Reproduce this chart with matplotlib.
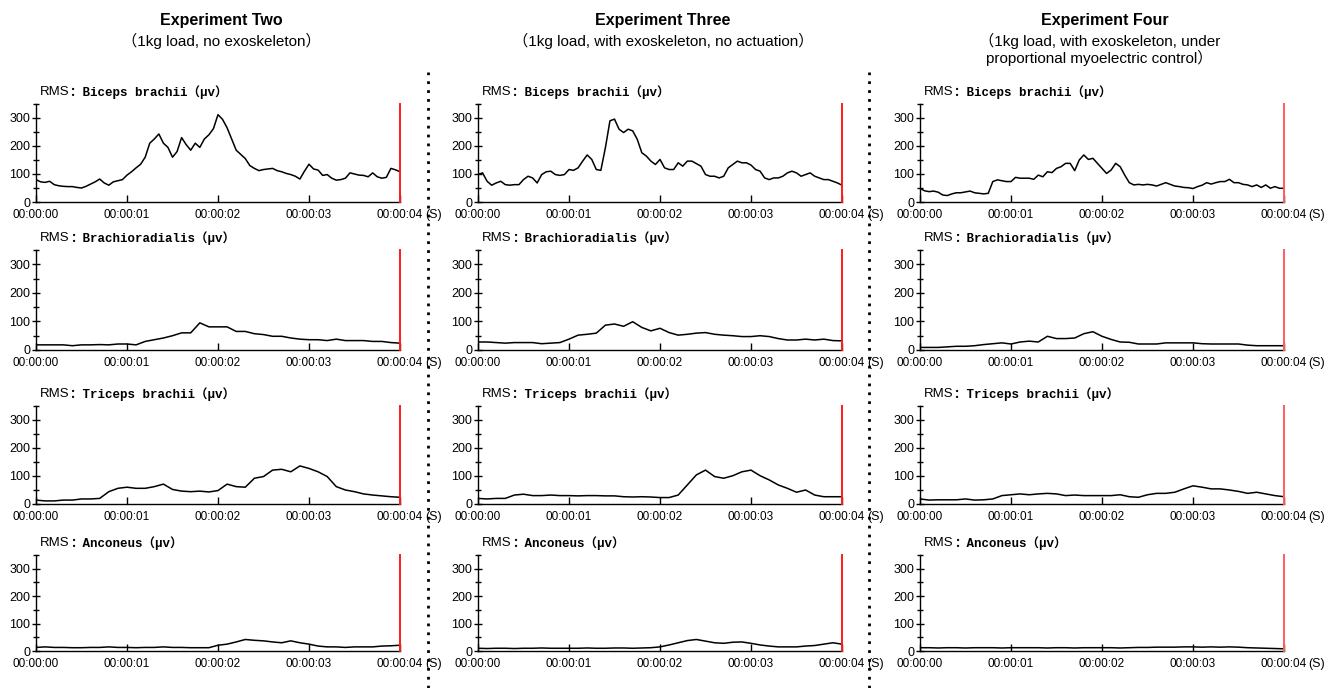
import numpy as np
import matplotlib
matplotlib.use('Agg')
import matplotlib.pyplot as plt
from matplotlib.lines import Line2D
from matplotlib.ticker import FixedLocator

plt.rcParams['font.family'] = ['Liberation Sans', 'Noto Sans CJK SC', 'DejaVu Sans']

experiments = ['Experiment Two', 'Experiment Three', 'Experiment Four']
conditions = ['（1kg load, no exoskeleton）',
              '（1kg load, with exoskeleton, no actuation）',
              '（1kg load, with exoskeleton, under\nproportional myoelectric control）']
muscles = ['Biceps brachii', 'Brachioradialis', 'Triceps brachii', 'Anconeus']
time_ticks = [0, 1, 2, 3, 4]
time_labels = ['00:00:00', '00:00:01', '00:00:02', '00:00:03', '00:00:04']

# RMS envelopes (uV); biceps every 0.05 s, the rest every 0.1 s, 0..4 s
exp2_biceps = [80, 72, 70, 74, 62, 58, 56, 55, 55, 52, 50, 56, 64, 72, 82, 68, 60, 72, 76, 80,
               96, 108, 122, 135, 160, 210, 225, 243, 210, 195, 160, 180, 230, 205, 185, 210, 195, 225, 240, 262,
               312, 295, 265, 225, 185, 170, 155, 130, 120, 112, 116, 118, 120, 112, 108, 102, 98, 92, 82, 110,
               135, 118, 114, 95, 98, 85, 78, 80, 85, 104, 100, 96, 95, 90, 104, 90, 85, 88, 120, 115, 108]
exp3_biceps = [98, 104, 74, 60, 68, 74, 62, 60, 62, 62, 80, 92, 86, 68, 98, 108, 110, 98, 95, 98,
               116, 113, 122, 146, 168, 152, 116, 113, 194, 290, 296, 260, 248, 260, 254, 224, 176, 164, 146, 134,
               152, 122, 116, 116, 140, 128, 146, 146, 137, 128, 98, 92, 92, 86, 92, 122, 134, 146, 140, 140,
               132, 116, 110, 86, 80, 86, 86, 92, 104, 110, 104, 92, 98, 104, 92, 86, 80, 80, 74, 68, 60]
exp4_biceps = [49, 40, 37, 39, 35, 25, 23, 29, 33, 33, 36, 39, 33, 31, 29, 31, 73, 79, 76, 73,
               73, 88, 85, 85, 85, 81, 96, 90, 108, 105, 120, 126, 138, 138, 112, 150, 168, 152, 156, 138,
               120, 102, 114, 138, 126, 96, 69, 61, 63, 61, 63, 61, 57, 63, 69, 63, 57, 55, 52, 51,
               48, 55, 60, 69, 64, 69, 73, 73, 81, 69, 69, 63, 61, 55, 61, 52, 61, 49, 55, 49, 49]

exp2_brachio = [18, 18, 18, 18, 15, 18, 18, 19, 18, 21, 21, 18, 30, 36, 42, 50, 60, 60, 95, 81,
                81, 81, 65, 65, 57, 54, 48, 48, 42, 38, 36, 36, 33, 38, 33, 33, 33, 30, 30, 26, 24]
exp3_brachio = [28, 28, 26, 24, 26, 26, 26, 22, 24, 26, 38, 52, 55, 59, 87, 91, 83, 99, 79, 67,
                76, 61, 52, 55, 59, 61, 55, 52, 50, 47, 47, 50, 47, 40, 35, 35, 38, 35, 38, 33, 32]
exp4_brachio = [9, 9, 9, 11, 13, 13, 15, 19, 22, 25, 21, 28, 31, 28, 48, 40, 40, 42, 57, 64,
                48, 37, 28, 27, 21, 21, 21, 25, 25, 25, 25, 22, 21, 21, 21, 21, 17, 15, 15, 15, 15]

exp2_triceps = [14, 11, 11, 14, 14, 18, 18, 20, 44, 56, 60, 56, 56, 62, 71, 52, 46, 44, 46, 43,
                48, 71, 62, 60, 92, 98, 121, 124, 115, 136, 127, 115, 98, 62, 50, 44, 36, 32, 29, 26, 24]
exp3_triceps = [20, 18, 20, 20, 32, 35, 30, 30, 32, 30, 30, 29, 30, 30, 29, 29, 26, 25, 26, 25,
                23, 23, 32, 68, 104, 121, 98, 92, 101, 115, 121, 101, 86, 68, 56, 42, 50, 32, 26, 26, 26]
exp4_triceps = [18, 14, 15, 15, 15, 18, 14, 15, 18, 30, 33, 36, 33, 36, 38, 36, 30, 32, 30, 30,
                30, 30, 33, 26, 24, 33, 38, 38, 42, 54, 65, 60, 54, 54, 50, 45, 38, 42, 36, 30, 26]

exp2_anconeus = [13, 15, 13, 13, 12, 12, 13, 13, 15, 13, 13, 12, 13, 13, 15, 13, 13, 12, 12, 12,
                 21, 25, 33, 42, 39, 37, 33, 30, 37, 30, 25, 18, 15, 15, 13, 15, 15, 15, 18, 19, 21]
exp3_anconeus = [10, 9, 10, 10, 9, 10, 10, 11, 10, 10, 10, 10, 11, 10, 10, 11, 11, 10, 11, 12,
                 15, 22, 30, 38, 42, 36, 30, 28, 32, 33, 28, 22, 18, 15, 15, 15, 18, 20, 25, 30, 25]
exp4_anconeus = [12, 12, 11, 12, 12, 11, 12, 12, 12, 11, 12, 12, 12, 12, 11, 12, 12, 11, 12, 12,
                 12, 12, 11, 12, 13, 13, 14, 14, 14, 15, 15, 14, 15, 14, 15, 14, 12, 11, 10, 9, 8]

rms = [[exp2_biceps, exp2_brachio, exp2_triceps, exp2_anconeus],
       [exp3_biceps, exp3_brachio, exp3_triceps, exp3_anconeus],
       [exp4_biceps, exp4_brachio, exp4_triceps, exp4_anconeus]]

W, H = 1330, 688
fig = plt.figure(figsize=(W / 100, H / 100), dpi=100)

lefts = [36, 478, 920]
width = 364
tops = [104, 250, 406, 555]
bottoms = [202, 350, 504, 651]
s_offset = [25, 25, 24]
cursor_colors = ['#ff1a1a', '#ff1a1a', '#ff5c5c']

for c in range(3):
    cx = (lefts[c] + width / 2 + 3) / W
    fig.text(cx, 1 - 20 / H, experiments[c], ha='center', va='center',
             fontsize=11.5, fontweight='bold')
    for i, line in enumerate(conditions[c].split('\n')):
        fig.text(cx - (0.004 if c == 2 else 0), 1 - (41 + 17 * i) / H, line,
                 ha='center', va='center', fontsize=11)

    for r in range(4):
        ax = fig.add_axes([lefts[c] / W, 1 - bottoms[r] / H, width / W, (bottoms[r] - tops[r]) / H])
        y = rms[c][r]
        t = np.linspace(0, 4, len(y))
        ax.plot(t, y, color='black', lw=1.1)
        ax.axvline(4, color=cursor_colors[c], lw=1.4, clip_on=False, zorder=3)
        ax.set_xlim(0, 4)
        ax.set_ylim(0, 350)
        for side in ['top', 'right']:
            ax.spines[side].set_visible(False)
        ax.spines['left'].set_linewidth(1.0)
        ax.spines['bottom'].set_linewidth(1.0)

        ax.set_xticks(time_ticks)
        ax.set_xticklabels(time_labels)
        ax.set_yticks([0, 100, 200, 300])
        ax.yaxis.set_minor_locator(FixedLocator([50, 150, 250, 350]))
        ax.tick_params(axis='x', direction='in', length=5, width=1, pad=5, labelsize=8.5)
        ax.tick_params(axis='y', which='major', direction='inout', length=6, width=1, pad=1, labelsize=9)
        ax.tick_params(axis='y', which='minor', direction='inout', length=5, width=1)

        ax.annotate('(S)', xy=(4, 0), xycoords='data', xytext=(s_offset[c], -13),
                    textcoords='offset pixels', ha='left', va='center', fontsize=9)

        rms_txt = ax.text(4 / width, 1 + 12 / (bottoms[r] - tops[r]), 'RMS',
                          transform=ax.transAxes, ha='left', va='center', fontsize=9.5)
        ax.annotate('：' + muscles[r] + '（μv）', xy=(1, 0.5), xycoords=rms_txt,
                    ha='left', va='center', fontsize=9, fontweight='bold',
                    family=['Liberation Mono', 'Noto Sans CJK SC'])

# dotted separators between experiments
for x in [428, 869]:
    fig.add_artist(Line2D([x / W, x / W], [0, 1 - 72 / H], color='black',
                          lw=2, linestyle=(0, (1, 2.2)), transform=fig.transFigure))

fig.savefig('out.png', dpi=100, facecolor='white')
